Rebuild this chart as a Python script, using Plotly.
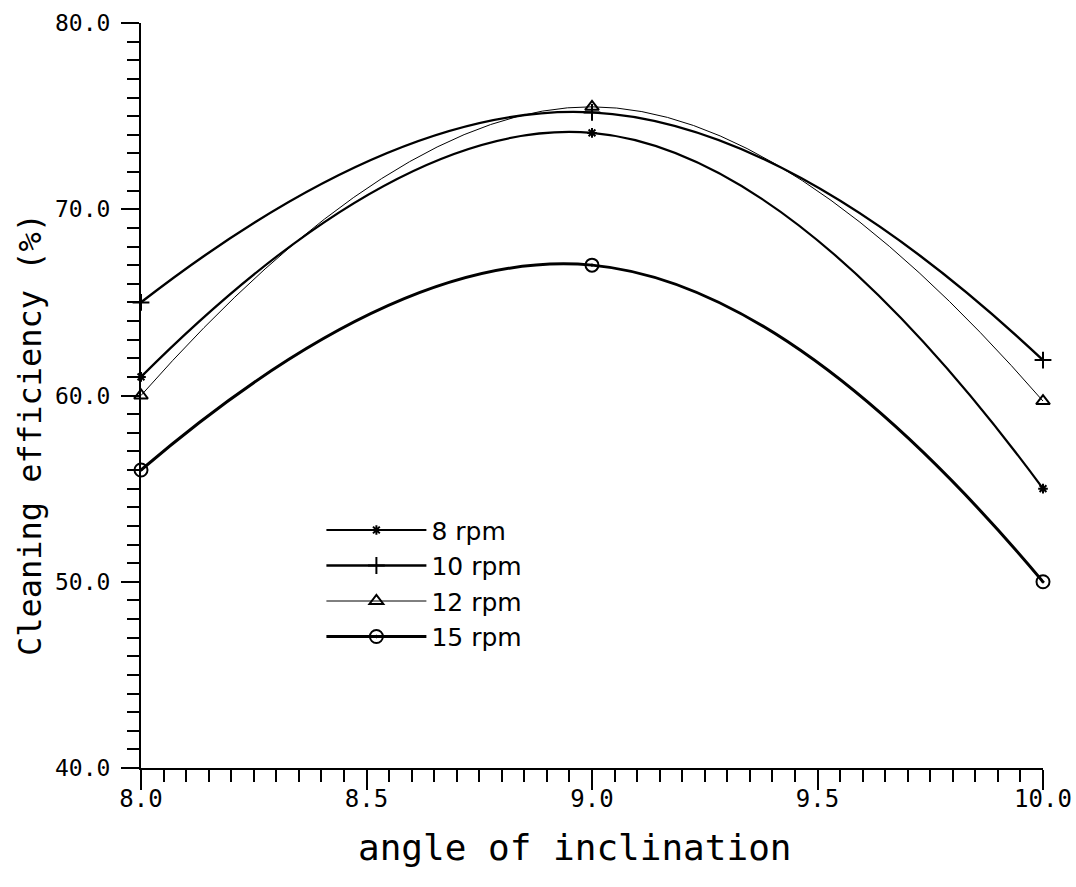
import plotly.graph_objects as go

angle = [8.0, 9.0, 10.0]
eff_8rpm = [61.0, 74.1, 55.0]
eff_10rpm = [65.0, 75.2, 61.9]
eff_12rpm = [60.0, 75.5, 59.7]
eff_15rpm = [56.0, 67.0, 50.0]

series = [
    ("8 rpm", eff_8rpm, "asterisk-open", 8, 2.2),
    ("10 rpm", eff_10rpm, "cross-thin", 12, 2.4),
    ("12 rpm", eff_12rpm, "triangle-up-open", 12, 1.0),
    ("15 rpm", eff_15rpm, "circle-open-dot", 13, 3.0),
]

fig = go.Figure()
for name, vals, sym, size, lw in series:
    fig.add_trace(go.Scatter(
        x=angle, y=vals, name=name, mode="lines+markers",
        line=dict(color="black", width=lw, shape="spline", smoothing=1.3),
        marker=dict(symbol=sym, size=size, color="black",
                    line=dict(color="black", width=2)),
        cliponaxis=False,
    ))

mono = "DejaVu Sans Mono"
fig.update_layout(
    width=1076, height=887,
    margin=dict(l=141, r=33, t=23, b=119),
    paper_bgcolor="white", plot_bgcolor="white",
    showlegend=True,
    legend=dict(x=0.2, y=0.35, xanchor="left", yanchor="top",
                font=dict(family="DejaVu Sans", size=25, color="black"),
                bgcolor="rgba(0,0,0,0)", itemwidth=100, tracegroupgap=0),
    xaxis=dict(range=[8.0, 10.0], showgrid=False, zeroline=False,
               showline=True, linecolor="black", linewidth=2, automargin=False,
               tickmode="array", tickvals=[8.0, 8.5, 9.0, 9.5, 10.0],
               ticktext=["8.0", "8.5", "9.0", "9.5", "10.0"],
               ticks="outside", ticklen=20, tickwidth=1.5, tickcolor="black",
               ticklabelstandoff=-12,
               minor=dict(dtick=0.05, ticks="outside", ticklen=12,
                          tickwidth=1.5, tickcolor="black"),
               tickfont=dict(family=mono, size=24, color="black")),
    yaxis=dict(range=[40, 80], showgrid=False, zeroline=False,
               showline=True, linecolor="black", linewidth=2, automargin=False,
               tickmode="array", tickvals=[40, 50, 60, 70, 80],
               ticktext=["40.0", "50.0", "60.0", "70.0", "80.0"],
               ticks="outside", ticklen=18, tickwidth=1.5, tickcolor="black",
               ticklabelstandoff=6,
               minor=dict(dtick=1, ticks="outside", ticklen=12,
                          tickwidth=1.5, tickcolor="black"),
               tickfont=dict(family=mono, size=23, color="black")),
    annotations=[
        dict(text="angle of inclination", xref="paper", yref="paper",
             x=0.481, y=-0.107, showarrow=False, xanchor="center", yanchor="middle",
             font=dict(family=mono, size=36, color="black")),
        dict(text="Cleaning efficiency (%)", xref="paper", yref="paper",
             x=-0.123, y=0.447, showarrow=False, textangle=-90,
             xanchor="center", yanchor="middle",
             font=dict(family=mono, size=32, color="black")),
    ],
)

fig.write_html("out.html")
